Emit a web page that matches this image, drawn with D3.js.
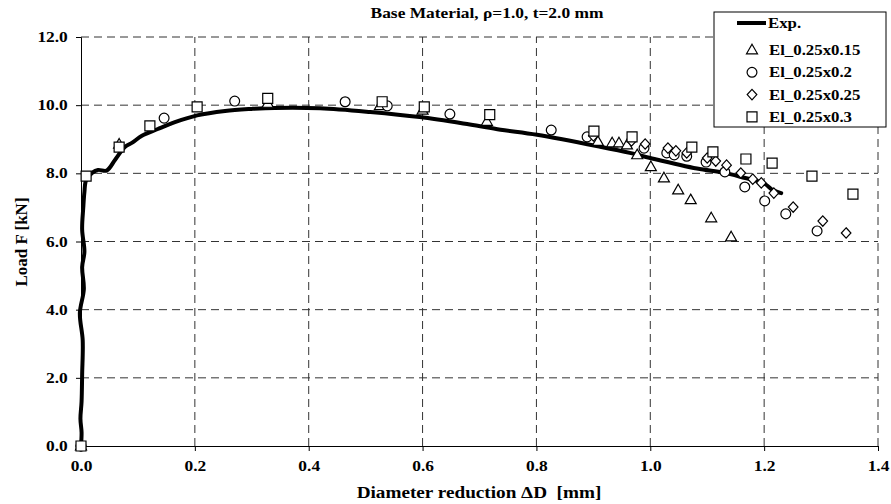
<!DOCTYPE html>
<html>
<head>
<meta charset="utf-8">
<script src="https://cdn.jsdelivr.net/npm/d3@7/dist/d3.min.js"></script>
<style>
  body { margin: 0; background: #fff; }
  text { font-family: "Liberation Serif", "Times New Roman", serif; font-weight: bold; fill: #000; white-space: pre; }
</style>
</head>
<body>
<div id="chart"></div>
<script>
// chart data
var title = "Base Material, \u03c1=1.0, t=2.0 mm";
var xLabel = "Diameter reduction \u0394D  [mm]";
var yLabel = "Load F [kN]";
var xTicks = [0, 0.2, 0.4, 0.6, 0.8, 1.0, 1.2, 1.4];
var yTicks = [0, 2, 4, 6, 8, 10, 12];
var seriesNames = ["Exp.", "El_0.25x0.15", "El_0.25x0.2", "El_0.25x0.25", "El_0.25x0.3"];

var expCurve = [
  [0, 0], [0.001, 0.4], [-0.001, 0.8], [0.001, 1.3], [0.002, 2.1], [0.003, 3.1],
  [-0.002, 3.9], [0.005, 4.6], [0.002, 5.25], [0.006, 5.7], [0.002, 6.35],
  [0.004, 7.0], [0.006, 7.45], [0.009, 7.8], [0.02, 8.02], [0.03, 8.1],
  [0.045, 8.08], [0.06, 8.4], [0.077, 8.77], [0.09, 8.9], [0.107, 9.1],
  [0.135, 9.3], [0.165, 9.5], [0.204, 9.7], [0.253, 9.83], [0.3, 9.89],
  [0.34, 9.92], [0.42, 9.91], [0.508, 9.8], [0.595, 9.65], [0.683, 9.43],
  [0.737, 9.28], [0.801, 9.13], [0.912, 8.78], [0.964, 8.6], [1.0, 8.45],
  [1.082, 8.14], [1.128, 8.02], [1.158, 7.9], [1.2, 7.7], [1.216, 7.5], [1.23, 7.42]
];
var el015 = [
  [0, 0], [0.067, 8.85], [0.328, 10.05], [0.525, 9.98], [0.6, 9.85], [0.713, 9.52],
  [0.908, 8.93], [0.933, 8.89], [0.945, 8.89], [0.959, 8.83], [0.977, 8.54],
  [1.001, 8.19], [1.024, 7.86], [1.049, 7.51], [1.071, 7.22], [1.107, 6.69], [1.142, 6.13]
];
var el02 = [
  [0, 0], [0.146, 9.62], [0.27, 10.12], [0.464, 10.1], [0.538, 9.98], [0.648, 9.74],
  [0.826, 9.27], [0.889, 9.07], [0.989, 8.74], [1.029, 8.6], [1.042, 8.54],
  [1.064, 8.5], [1.098, 8.33], [1.131, 8.04], [1.166, 7.6], [1.201, 7.19],
  [1.238, 6.81], [1.293, 6.31]
];
var el025 = [
  [0, 0], [0.9, 9.1], [0.967, 8.95], [0.991, 8.86], [1.031, 8.74], [1.045, 8.66],
  [1.064, 8.6], [1.1, 8.45], [1.115, 8.36], [1.134, 8.24], [1.159, 8.01],
  [1.18, 7.83], [1.195, 7.72], [1.217, 7.42], [1.251, 7.01], [1.303, 6.6], [1.344, 6.25]
];
var el03 = [
  [0, 0], [0.009, 7.92], [0.067, 8.77], [0.121, 9.39], [0.204, 9.95], [0.328, 10.2],
  [0.529, 10.1], [0.603, 9.95], [0.718, 9.72], [0.901, 9.24], [0.968, 9.07],
  [1.073, 8.77], [1.11, 8.63], [1.168, 8.42], [1.214, 8.3], [1.284, 7.92], [1.356, 7.39]
];

var width = 891, height = 504;
var sx = 1.2; // reference text is stretched sideways

var svg = d3.select("#chart").append("svg")
  .attr("width", width)
  .attr("height", height);

var x = d3.scaleLinear().domain([0, 1.4]).range([81, 878]);
var y = d3.scaleLinear().domain([0, 12]).range([446, 37]);

// dashed grid
var grid = svg.append("g").attr("stroke", "#333").attr("stroke-width", 1).attr("stroke-dasharray", "8,5");
grid.selectAll(".gx").data(xTicks.slice(1)).enter().append("line")
  .attr("x1", function(d){ return x(d); }).attr("x2", function(d){ return x(d); })
  .attr("y1", y(0)).attr("y2", y(12));
grid.selectAll(".gy").data(yTicks.slice(1)).enter().append("line")
  .attr("x1", x(0)).attr("x2", x(1.4))
  .attr("y1", function(d){ return y(d); }).attr("y2", function(d){ return y(d); });

// axes
var fmt = d3.format(".1f");
var gy = svg.append("g").attr("transform", "translate(" + x(0) + ",0)")
  .call(d3.axisLeft(y).tickValues(yTicks).tickFormat(fmt).tickSize(5).tickPadding(6));
var gx = svg.append("g").attr("transform", "translate(0," + y(0) + ")")
  .call(d3.axisBottom(x).tickValues(xTicks).tickFormat(fmt).tickSize(5).tickPadding(10));
[gx, gy].forEach(function(g){
  g.select(".domain").attr("stroke", "#000");
  g.selectAll(".tick line").attr("stroke", "#000");
  g.selectAll(".tick text")
    .attr("font-family", "Liberation Serif, serif")
    .attr("font-size", 14.5)
    .attr("font-weight", "bold")
    .attr("transform", "scale(" + sx + ",1)");
});
gx.selectAll(".tick text").attr("x", 0);

// experimental curve
var line = d3.line()
  .x(function(d){ return x(d[0]); })
  .y(function(d){ return y(d[1]); })
  .curve(d3.curveCatmullRom);

svg.append("path")
  .datum(expCurve)
  .attr("d", line)
  .attr("fill", "none")
  .attr("stroke", "#000")
  .attr("stroke-width", 4)
  .attr("stroke-linejoin", "round")
  .attr("stroke-linecap", "round");

// marker shapes
var diamond = { draw: function(ctx, size){ ctx.moveTo(0, -5.2); ctx.lineTo(4.8, 0); ctx.lineTo(0, 5.2); ctx.lineTo(-4.8, 0); ctx.closePath(); } };
var triangle = { draw: function(ctx, size){ ctx.moveTo(0, -5.8); ctx.lineTo(5.5, 3.8); ctx.lineTo(-5.5, 3.8); ctx.closePath(); } };
var shapes = [
  { data: el015, path: d3.symbol().type(triangle)() },
  { data: el02, path: d3.symbol().type(d3.symbolCircle).size(76)() },
  { data: el025, path: d3.symbol().type(diamond)() },
  { data: el03, path: d3.symbol().type(d3.symbolSquare).size(100)() }
];

shapes.forEach(function(s){
  svg.append("g").selectAll("path")
    .data(s.data)
    .enter().append("path")
    .attr("d", s.path)
    .attr("transform", function(d){ return "translate(" + x(d[0]) + "," + y(d[1]) + ")"; })
    .attr("fill", "#fff")
    .attr("stroke", "#000")
    .attr("stroke-width", 1.2);
});

// titles
svg.append("text")
  .attr("transform", "translate(487,18) scale(" + sx + ",1)")
  .attr("text-anchor", "middle")
  .attr("font-size", 14.5)
  .text(title);

svg.append("text")
  .attr("transform", "translate(479,498) scale(" + sx + ",1)")
  .attr("text-anchor", "middle")
  .attr("font-size", 16)
  .text(xLabel);

svg.append("text")
  .attr("transform", "translate(27,242) rotate(-90)")
  .attr("text-anchor", "middle")
  .attr("font-size", 17)
  .text(yLabel);

// legend
var legend = svg.append("g").attr("transform", "translate(714,12)");
legend.append("rect")
  .attr("width", 172).attr("height", 115)
  .attr("fill", "#fff").attr("stroke", "#000").attr("stroke-width", 1);
legend.append("line")
  .attr("x1", 23).attr("x2", 52).attr("y1", 11).attr("y2", 11)
  .attr("stroke", "#000").attr("stroke-width", 4);
legend.append("text")
  .attr("transform", "translate(54,16) scale(" + sx + ",1)")
  .attr("font-size", 14)
  .text(seriesNames[0]);
shapes.forEach(function(s, i){
  var ry = 38 + i * 22.3;
  legend.append("path")
    .attr("d", s.path)
    .attr("transform", "translate(38," + ry + ")")
    .attr("fill", "#fff").attr("stroke", "#000").attr("stroke-width", 1.2);
  legend.append("text")
    .attr("transform", "translate(55," + (ry + 5) + ") scale(" + sx + ",1)")
    .attr("font-size", 14)
    .text(seriesNames[i + 1]);
});
</script>
</body>
</html>
